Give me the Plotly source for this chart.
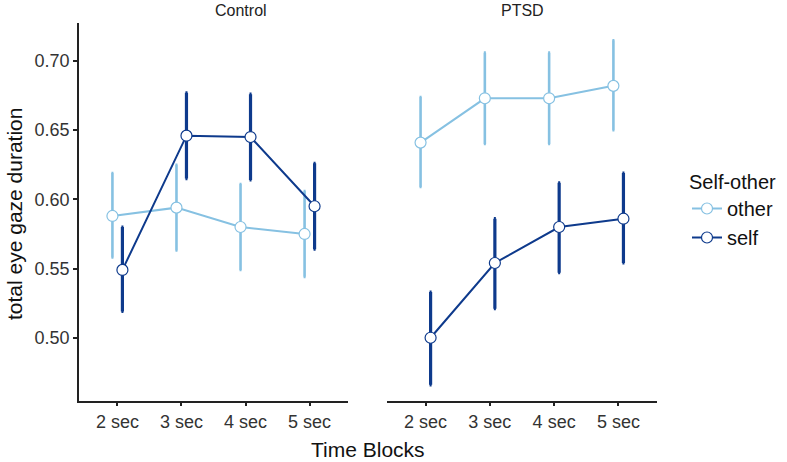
import numpy as np
import plotly.graph_objects as go

blocks = ['2 sec', '3 sec', '4 sec', '5 sec']
groups = ['Control', 'PTSD']

# mean and CI per group: other / self
control_other = [0.588, 0.594, 0.580, 0.575]
control_other_lo = [0.558, 0.563, 0.549, 0.544]
control_other_hi = [0.619, 0.625, 0.611, 0.606]

control_self = [0.549, 0.646, 0.645, 0.595]
control_self_lo = [0.519, 0.615, 0.614, 0.564]
control_self_hi = [0.580, 0.677, 0.676, 0.626]

ptsd_other = [0.641, 0.673, 0.673, 0.682]
ptsd_other_lo = [0.609, 0.640, 0.640, 0.650]
ptsd_other_hi = [0.674, 0.706, 0.706, 0.715]

ptsd_self = [0.500, 0.554, 0.580, 0.586]
ptsd_self_lo = [0.466, 0.521, 0.547, 0.554]
ptsd_self_hi = [0.533, 0.586, 0.612, 0.619]

col_other = '#86C1E2'
col_self = '#0E3A8C'
dodge = 0.078

W, H = 787, 462

fig = go.Figure()

series = [
    ('other', col_other, 2.6, -dodge, [(control_other, control_other_lo, control_other_hi),
                                       (ptsd_other, ptsd_other_lo, ptsd_other_hi)]),
    ('self', col_self, 3.2, dodge, [(control_self, control_self_lo, control_self_hi),
                                    (ptsd_self, ptsd_self_lo, ptsd_self_hi)]),
]

for name, col, ebw, off, panels in series:
    for i, (m, lo, hi) in enumerate(panels):
        m = np.array(m)
        xs = np.arange(len(blocks)) + off
        fig.add_trace(go.Scatter(
            x=xs, y=m,
            mode='lines+markers',
            name=name,
            legendgroup=name,
            showlegend=(i == 0),
            xaxis='x' if i == 0 else 'x2',
            yaxis='y',
            line=dict(color=col, width=2),
            marker=dict(symbol='circle', size=11, color='white',
                        line=dict(color=col, width=1.2)),
            error_y=dict(type='data', symmetric=False,
                         array=np.array(hi) - m, arrayminus=m - np.array(lo),
                         color=col, thickness=ebw, width=1)
        ))

font = 'Liberation Sans, Arial, sans-serif'
xcommon = dict(
    range=[-0.6, 3.6], tickvals=list(range(len(blocks))), ticktext=blocks,
    showline=True, linecolor='#222222', linewidth=1.5,
    ticks='outside', ticklen=4, tickwidth=2, tickcolor='#222222',
    showgrid=False, zeroline=False,
    tickfont=dict(family=font, size=18, color='#333333')
)

fig.update_layout(
    width=W, height=H,
    margin=dict(l=0, r=0, t=0, b=0),
    paper_bgcolor='white', plot_bgcolor='white',
    font=dict(family=font),
    xaxis=dict(domain=[79 / W, 348 / W], **xcommon),
    xaxis2=dict(domain=[387 / W, 657 / W], anchor='y', **xcommon),
    yaxis=dict(
        domain=[1 - 400.7 / H, 1 - 23.3 / H],
        range=[0.4545, 0.7272],
        tickvals=[0.50, 0.55, 0.60, 0.65, 0.70], tickformat='.2f',
        showline=True, linecolor='#222222', linewidth=1.5,
        ticks='outside', ticklen=4, tickwidth=2, tickcolor='#222222',
        showgrid=False, zeroline=False,
        tickfont=dict(family=font, size=18, color='#333333')
    ),
    legend=dict(
        x=687 / W, y=1 - 163 / H, xanchor='left', yanchor='top',
        title=dict(text='Self-other', font=dict(family=font, size=20, color='#111111')),
        font=dict(family=font, size=20, color='#111111'),
        tracegroupgap=0, itemwidth=30
    ),
    annotations=[
        dict(text='Control', x=(79 + 348) / 2 / W, y=1, xref='paper', yref='paper',
             showarrow=False, font=dict(family=font, size=16, color='#222222'), yanchor='top'),
        dict(text='PTSD', x=(387 + 657) / 2 / W, y=1, xref='paper', yref='paper',
             showarrow=False, font=dict(family=font, size=16, color='#222222'), yanchor='top'),
        dict(text='Time Blocks', x=368 / W, y=1 - 449 / H, xref='paper', yref='paper',
             showarrow=False, font=dict(family=font, size=21, color='#111111'), yanchor='middle'),
        dict(text='total eye gaze duration', x=14 / W, y=1 - 214 / H, xref='paper', yref='paper',
             showarrow=False, textangle=-90, font=dict(family=font, size=21, color='#111111'),
             xanchor='center', yanchor='middle'),
    ]
)

fig.write_html('out.html', config={'displayModeBar': False},
               post_script="document.body.style.margin='0';")
